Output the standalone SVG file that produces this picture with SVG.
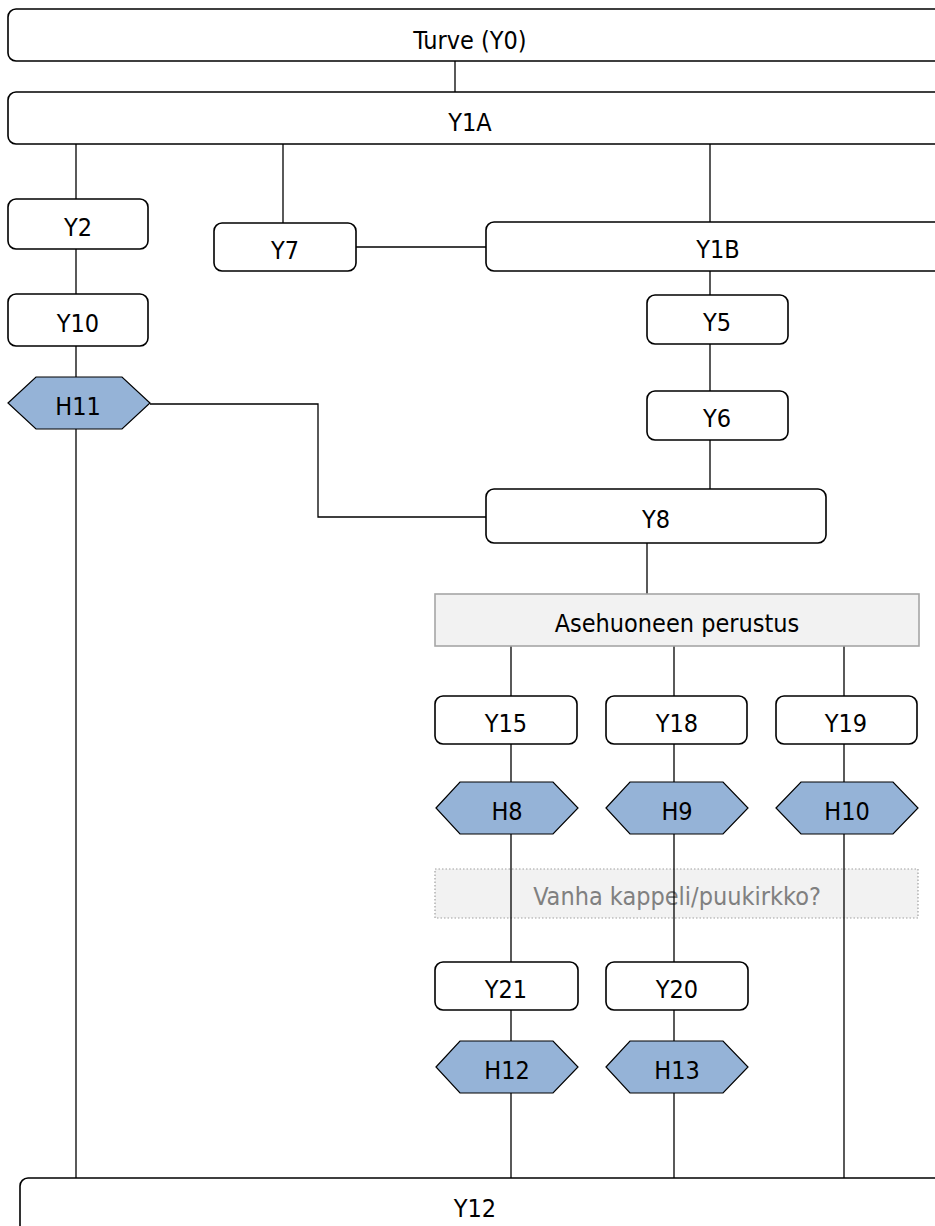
<svg xmlns="http://www.w3.org/2000/svg" width="935" height="1226" viewBox="0 0 935 1226">
<style>
.box{fill:#fff;stroke:#000;stroke-width:1.6}
.hex{fill:#95b3d7;stroke:#000;stroke-width:1.2}
.grey{fill:#f2f2f2;stroke:#a6a6a6;stroke-width:1.6}
.dot{fill:#f2f2f2;stroke:#a0a0a0;stroke-width:1.2;stroke-dasharray:1.5 2}
.ln{fill:none;stroke:#000;stroke-width:1.3}
text{font-family:"DejaVu Sans Condensed","DejaVu Sans",sans-serif;font-stretch:condensed;font-size:25px;text-anchor:middle;fill:#000}
.gt{fill:#808080}
</style>
<rect width="935" height="1226" fill="#fff"/>
<g id="connectors">
<path class="ln" d="M455 61V92"/>
<path class="ln" d="M76 144V199"/>
<path class="ln" d="M283 144V223"/>
<path class="ln" d="M710 144V222"/>
<path class="ln" d="M356 247H486"/>
<path class="ln" d="M76 249V294"/>
<path class="ln" d="M76 346V377"/>
<path class="ln" d="M76 429V1178"/>
<path class="ln" d="M150 404H318V517H486"/>
<path class="ln" d="M710 271V295"/>
<path class="ln" d="M710 344V391"/>
<path class="ln" d="M710 440V489"/>
<path class="ln" d="M647 543V594"/>
<path class="ln" d="M511 646V696"/>
<path class="ln" d="M674 646V696"/>
<path class="ln" d="M844 646V696"/>
<path class="ln" d="M511 744V782"/>
<path class="ln" d="M674 744V782"/>
<path class="ln" d="M844 744V782"/>
</g>
<g id="vanha">
<rect class="dot" x="435" y="869" width="483" height="49"/>
<text class="gt" x="677" y="905">Vanha kappeli/puukirkko?</text>
</g>
<g id="connectors2">
<path class="ln" d="M511 834V962"/>
<path class="ln" d="M674 834V962"/>
<path class="ln" d="M844 834V1178"/>
<path class="ln" d="M511 1010V1041"/>
<path class="ln" d="M674 1010V1041"/>
<path class="ln" d="M511 1093V1178"/>
<path class="ln" d="M674 1093V1178"/>
</g>
<g id="Y0"><rect class="box" x="8" y="9" width="940" height="52" rx="8"/><text x="470" y="49">Turve (Y0)</text></g>
<g id="Y1A"><rect class="box" x="8" y="92" width="940" height="52" rx="8"/><text x="470" y="131">Y1A</text></g>
<g id="Y2"><rect class="box" x="8" y="199" width="140" height="50" rx="8"/><text x="78" y="236">Y2</text></g>
<g id="Y7"><rect class="box" x="214" y="223" width="142" height="48" rx="8"/><text x="285" y="259">Y7</text></g>
<g id="Y1B"><rect class="box" x="486" y="222" width="464" height="49" rx="8"/><text x="718" y="258">Y1B</text></g>
<g id="Y10"><rect class="box" x="8" y="294" width="140" height="52" rx="8"/><text x="78" y="332">Y10</text></g>
<g id="Y5"><rect class="box" x="647" y="295" width="141" height="49" rx="8"/><text x="717" y="331">Y5</text></g>
<g id="H11"><polygon class="hex" points="8,403 36,377 122,377 150,403 122,429 36,429"/><text x="78" y="415">H11</text></g>
<g id="Y6"><rect class="box" x="647" y="391" width="141" height="49" rx="8"/><text x="717" y="427">Y6</text></g>
<g id="Y8"><rect class="box" x="486" y="489" width="340" height="54" rx="8"/><text x="656" y="528">Y8</text></g>
<g id="asehuone"><rect class="grey" x="435" y="594" width="484" height="52"/><text x="677" y="632">Asehuoneen perustus</text></g>
<g id="Y15"><rect class="box" x="435" y="696" width="142" height="48" rx="8"/><text x="506" y="732">Y15</text></g>
<g id="Y18"><rect class="box" x="606" y="696" width="141" height="48" rx="8"/><text x="677" y="732">Y18</text></g>
<g id="Y19"><rect class="box" x="776" y="696" width="141" height="48" rx="8"/><text x="846" y="732">Y19</text></g>
<g id="H8"><polygon class="hex" points="436,808 460,782 553,782 578,808 553,834 460,834"/><text x="507" y="820">H8</text></g>
<g id="H9"><polygon class="hex" points="606,808 630,782 723,782 748,808 723,834 630,834"/><text x="677" y="820">H9</text></g>
<g id="H10"><polygon class="hex" points="776,808 801,782 893,782 918,808 893,834 801,834"/><text x="847" y="820">H10</text></g>
<g id="Y21"><rect class="box" x="435" y="962" width="143" height="48" rx="8"/><text x="506" y="998">Y21</text></g>
<g id="Y20"><rect class="box" x="606" y="962" width="142" height="48" rx="8"/><text x="677" y="998">Y20</text></g>
<g id="H12"><polygon class="hex" points="436,1067 460,1041 553,1041 578,1067 553,1093 460,1093"/><text x="507" y="1079">H12</text></g>
<g id="H13"><polygon class="hex" points="606,1067 630,1041 723,1041 748,1067 723,1093 630,1093"/><text x="677" y="1079">H13</text></g>
<g id="Y12"><rect class="box" x="20" y="1178" width="940" height="70" rx="8"/><text x="475" y="1217">Y12</text></g>
</svg>
